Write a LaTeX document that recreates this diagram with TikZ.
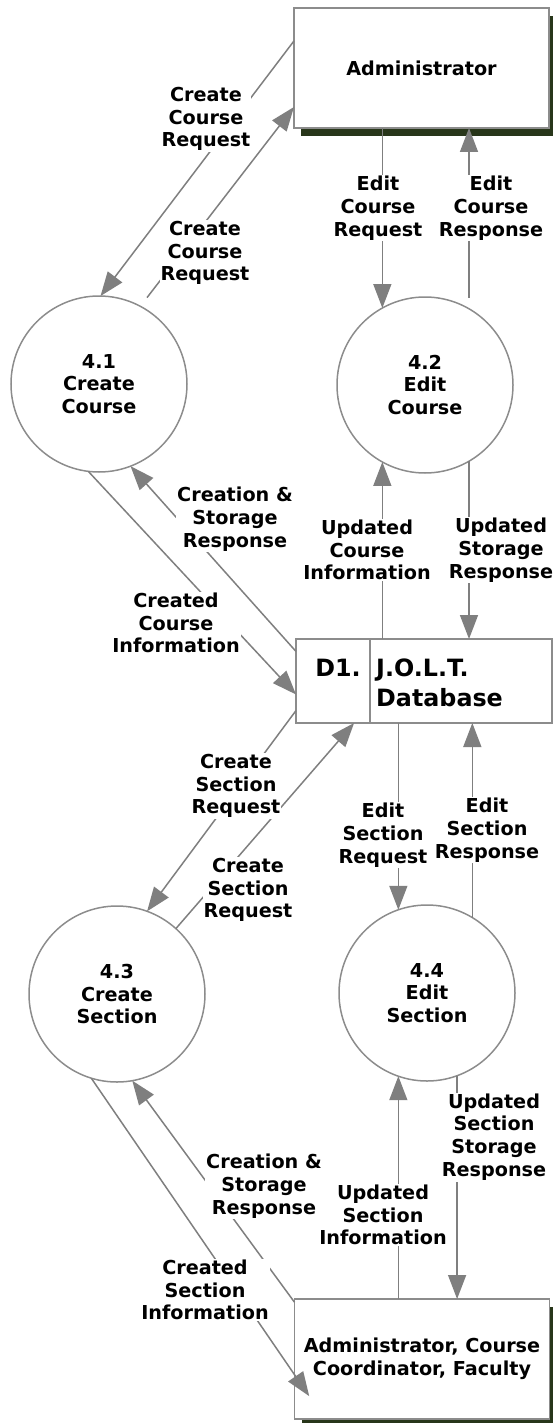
\documentclass[tikz,border=0pt]{standalone}
\usepackage{fontspec}
\setmainfont{DejaVu Sans}
\usetikzlibrary{arrows.meta,shadows}
\definecolor{flowgray}{HTML}{7F7F7F}
\definecolor{edgegray}{HTML}{8C8C8C}
\definecolor{shadowgreen}{HTML}{28361A}
\newcommand{\lblfont}{\fontsize{19.2}{22.8}\selectfont\bfseries}
\newcommand{\dbfont}{\fontsize{23.8}{30}\selectfont\bfseries}

\begin{document}
\begin{tikzpicture}[x=1pt,y=-1pt,>={Triangle[length=24pt,width=18pt]},
    flow/.style={->,flowgray,line width=1.5pt},
    entity/.style={draw=edgegray,line width=1.5pt,fill=white,minimum width=255pt,minimum height=120pt,inner sep=0pt,outer sep=0pt,align=center,font=\lblfont,drop shadow={shadow xshift=7pt,shadow yshift=-8pt,fill=shadowgreen,opacity=1}},
    process/.style={draw=edgegray,line width=1.5pt,circle,minimum size=176pt,inner sep=0pt,outer sep=0pt,align=center,font=\lblfont},
    lbl/.style={fill=white,inner sep=1pt,align=center,font=\lblfont}]
    \useasboundingbox(0,0)rectangle(553,1423);
    % external entities and data store
    \node[entity](admin)at(421.5,68){Administrator};
    \node[entity](users)at(422,1359){Administrator, Course\\Coordinator, Faculty};
    \node[draw=edgegray,line width=1.5pt,minimum width=256pt,minimum height=84pt,outer sep=0pt](db)at(424,681){};
    \coordinate(dbdiv)at(370,0);
    \draw[edgegray,line width=1.5pt](db.north -| dbdiv)--(db.south -| dbdiv);
    \node[font=\dbfont,anchor=base,inner sep=0pt](dbid)at(338,676){D1.};
    \node[font=\dbfont,align=left,anchor=north west,inner sep=0pt](dbname)at(376,658.5){J.O.L.T.\\Database};
    % processes
    \node[process](c41)at(99,384){4.1\\Create\\Course};
    \node[process](c42)at(425,385){4.2\\Edit\\Course};
    \node[process](c43)at(117,994){4.3\\Create\\Section};
    \node[process](c44)at(427,993){4.4\\Edit\\Section};
    % flows
    \draw[flow](admin.168)--(c41.89);
    \draw[flow,shorten <=11pt](c41.62)--(admin.197);
    \draw[flow](admin.south -| c42.119)--(c42.119);
    \draw[flow,shorten <=11pt](c42.60)--(admin.south -| c42.60);
    \draw[flow](db.167)--(c41.291);
    \draw[flow](c41.263)--(db.186);
    \draw[flow](db.north -| c42.241)--(c42.241);
    \draw[flow](c42.300)--(db.north -| c42.300);
    \draw[flow](db.193)--(c43.70);
    \draw[flow](c43.48)--(db.211);
    \draw[flow](db.south -| c44.109)--(c44.109);
    \draw[flow](c44.59)--(db.south -| c44.59);
    \draw[flow,shorten >=-26pt](c43.253)--(users.187);
    \draw[flow](users.156)--(c43.280);
    \draw[flow](users.north -| c44.251)--(c44.251);
    \draw[flow](c44.290)--(users.north -| c44.290);
    % flow labels
    \node[lbl](lcreq)at(206,119){Create\\Course\\Request};
    \node[lbl](lcreqb)at(205,253){Create\\Course\\Request};
    \node[lbl](lereq)at(378,208){Edit\\Course\\Request};
    \node[lbl](leres)at(491,208){Edit\\Course\\Response};
    \node[lbl](lcres)at(235,519){Creation \&\\Storage\\Response};
    \node[lbl](lcinf)at(176,623){Created\\Course\\Information};
    \node[lbl](luinf)at(367,550){Updated\\Course\\Information};
    \node[lbl](lures)at(501,550){Updated\\Storage\\Response};
    \node[lbl](lsreq)at(236,786){Create\\Section\\Request};
    \node[lbl](lsreqb)at(248,890){Create\\Section\\Request};
    \node[lbl](lesreq)at(383,835){Edit\\Section\\Request};
    \node[lbl](lesres)at(487,830){Edit\\Section\\Response};
    \node[lbl](lsinf)at(205,1290){Created\\Section\\Information};
    \node[lbl](lsres)at(264,1186){Creation \&\\Storage\\Response};
    \node[lbl](lusinf)at(383,1215){Updated\\Section\\Information};
    \node[lbl](lusres)at(494,1137){Updated\\Section\\Storage\\Response};
\end{tikzpicture}
\end{document}
